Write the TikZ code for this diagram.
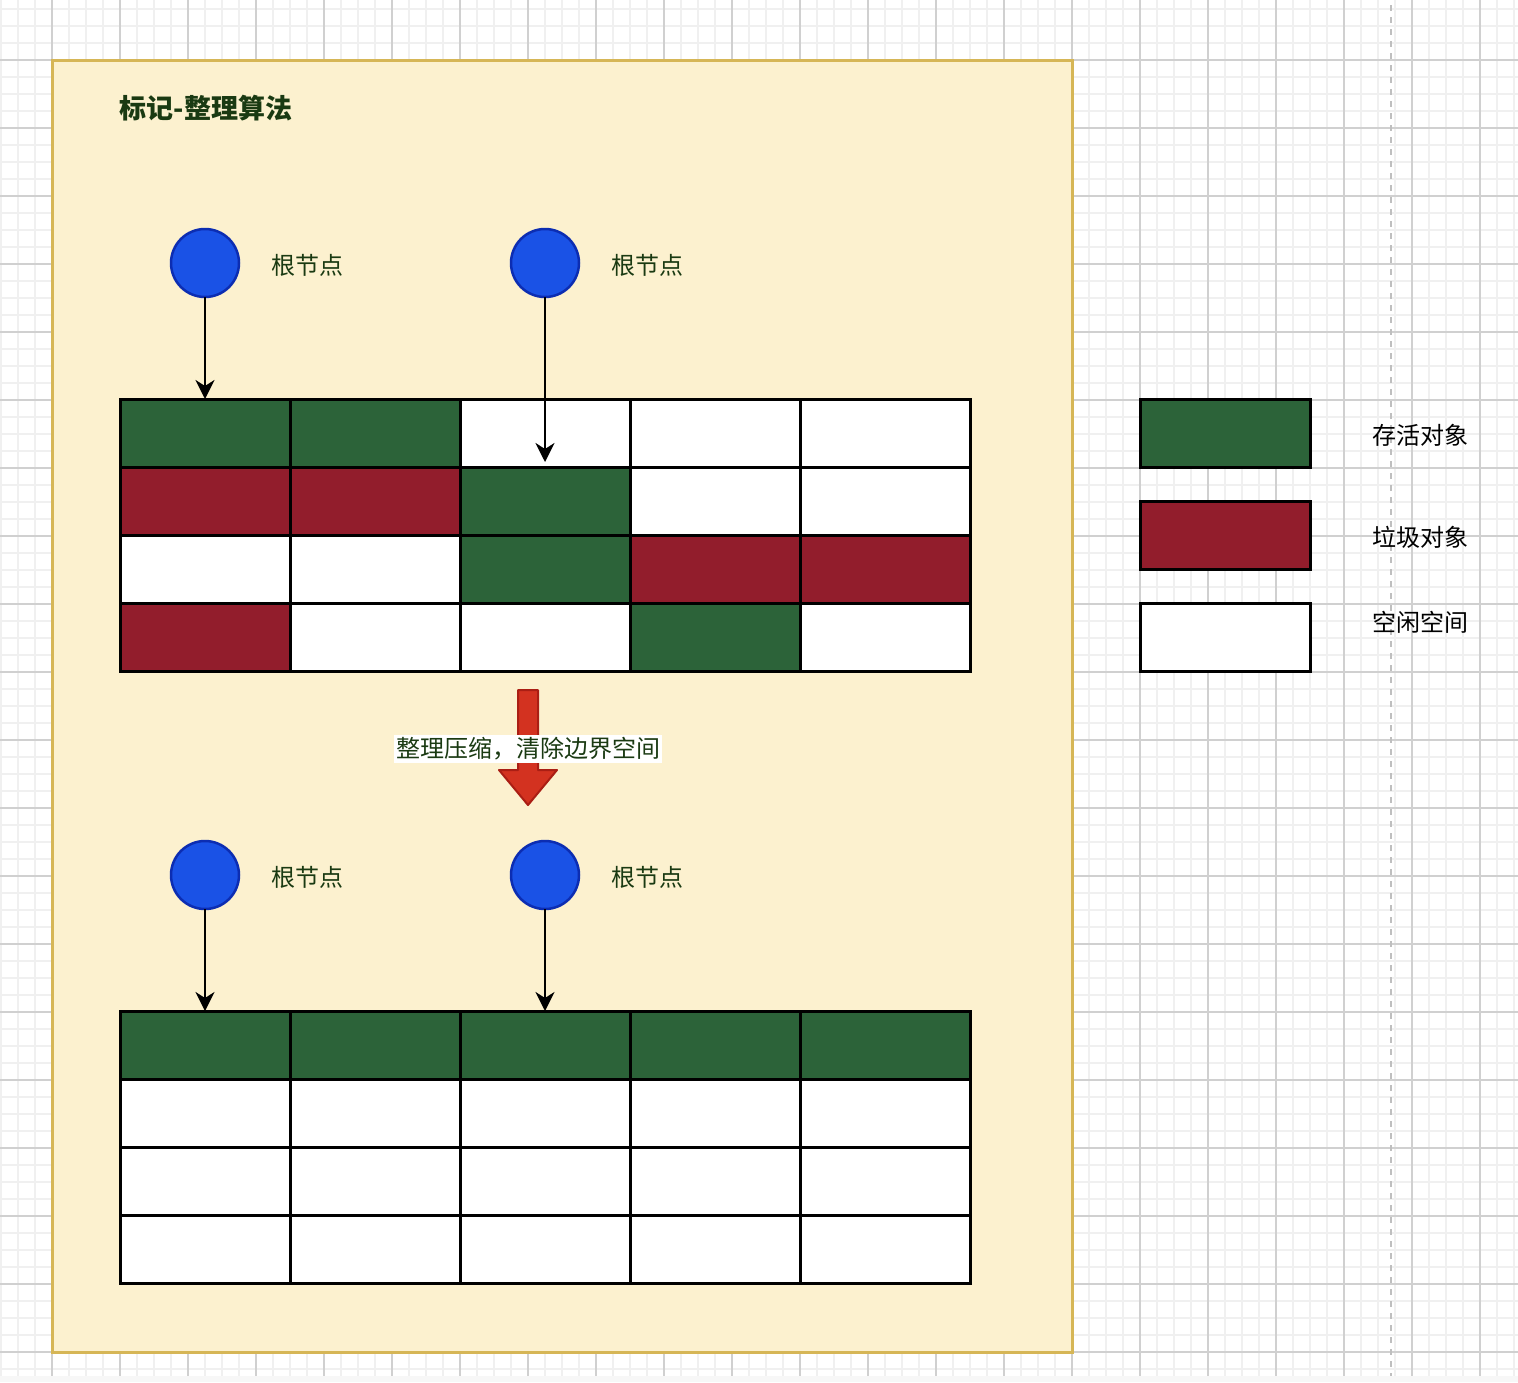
\documentclass[tikz,border=0pt]{standalone}
\usepackage{fontspec}
\setmainfont{Noto Sans CJK SC}
\usetikzlibrary{arrows.meta}
\definecolor{G}{RGB}{44,99,57}
\definecolor{R}{RGB}{146,29,44}
\definecolor{W}{RGB}{255,255,255}
\definecolor{boxfill}{RGB}{252,241,207}
\definecolor{boxdraw}{RGB}{214,182,86}
\definecolor{rootfill}{RGB}{26,82,230}
\definecolor{rootdraw}{RGB}{12,45,178}
\definecolor{txtgreen}{RGB}{26,58,18}
\definecolor{minorline}{RGB}{240,240,240}
\definecolor{majorline}{RGB}{208,208,208}
\definecolor{arrowfill}{RGB}{211,50,32}
\definecolor{arrowdraw}{RGB}{170,30,20}
\tikzset{
  cell/.style={draw=black, line width=3pt, minimum width=170pt, minimum height=68pt, inner sep=0pt, outer sep=0pt},
  root/.style={circle, fill=rootfill, draw=rootdraw, line width=2.5pt, minimum size=68pt, inner sep=0pt, outer sep=0pt},
  lbl/.style={font=\fontsize{24}{28}\selectfont, text=txtgreen, inner sep=0pt},
  leglbl/.style={font=\fontsize{24}{28}\selectfont, text=black, inner sep=0pt},
  conn/.style={draw=black, line width=2.5pt, -{Stealth[length=19pt,width=19pt,inset=6pt]}},
}
\begin{document}
\begin{tikzpicture}[x=1pt,y=-1pt]
\useasboundingbox (0,0) rectangle (1518,1382);
% canvas grid
\fill[white] (0,0) rectangle (1518,1376);
\fill[black!3] (0,1376) rectangle (1518,1382);
\foreach \x in {1,18,...,1518} \draw[minorline,line width=2pt] (\x,0) -- (\x,1376);
\foreach \y in {9,26,...,1376} \draw[minorline,line width=2pt] (0,\y) -- (1518,\y);
\foreach \x in {52,120,...,1518} \draw[majorline,line width=1.2pt] (\x,0) -- (\x,1376);
\foreach \y in {60,128,...,1376} \draw[majorline,line width=1.2pt] (0,\y) -- (1518,\y);
\draw[black!25,line width=2pt,dash pattern=on 6pt off 6pt] (1391,5) -- (1391,1376);
% container
\node[draw=boxdraw, fill=boxfill, line width=3pt, minimum width=1020pt, minimum height=1292pt, inner sep=0pt] (box) at (562,706) {};
\node[lbl, font=\fontsize{27}{30}\selectfont\bfseries] (title) at (206,108) {标记-整理算法};
% top roots
\node[root] (r1) at (205,263) {};
\node[root] (r2) at (545,263) {};
\node[lbl] (l1) at (307,265) {根节点};
\node[lbl] (l2) at (647,265) {根节点};
% top memory
\foreach \r/\row in {1/{G,G,W,W,W},2/{R,R,G,W,W},3/{W,W,G,R,R},4/{R,W,W,G,W}} {
  \foreach \c [count=\cc] in \row {
    \node[cell, fill=\c] (t\r\cc) at ({205+170*(\cc-1)},{433+68*(\r-1)}) {};
  }
}
\draw[conn] (r1) -- (t11.north);
\draw[conn] (r2) -- ([yshift=5pt]t13.south);
% red block arrow
\draw[fill=arrowfill, draw=arrowdraw, line width=2pt, line join=round]
  (518,690) -- (538,690) -- (538,770) -- (557,770) -- (528,805) -- (499,770) -- (518,770) -- cycle;
\node[lbl, fill=white, inner xsep=2pt, inner ysep=3pt] (mid) at (528,749) {整理压缩，清除边界空间};
% bottom roots
\node[root] (r3) at (205,875) {};
\node[root] (r4) at (545,875) {};
\node[lbl] (l3) at (307,877) {根节点};
\node[lbl] (l4) at (647,877) {根节点};
% bottom memory
\foreach \r/\row in {1/{G,G,G,G,G},2/{W,W,W,W,W},3/{W,W,W,W,W},4/{W,W,W,W,W}} {
  \foreach \c [count=\cc] in \row {
    \node[cell, fill=\c] (b\r\cc) at ({205+170*(\cc-1)},{1045+68*(\r-1)}) {};
  }
}
\draw[conn] (r3) -- (b11.north);
\draw[conn] (r4) -- (b13.north);
% legend
\node[cell, fill=G] (lg1) at (1225,433) {};
\node[cell, fill=R] (lg2) at (1225,535) {};
\node[cell, fill=W] (lg3) at (1225,637) {};
\node[leglbl] (lt1) at (1420,435) {存活对象};
\node[leglbl] (lt2) at (1420,537) {垃圾对象};
\node[leglbl] (lt3) at (1420,622) {空闲空间};
\end{tikzpicture}
\end{document}
